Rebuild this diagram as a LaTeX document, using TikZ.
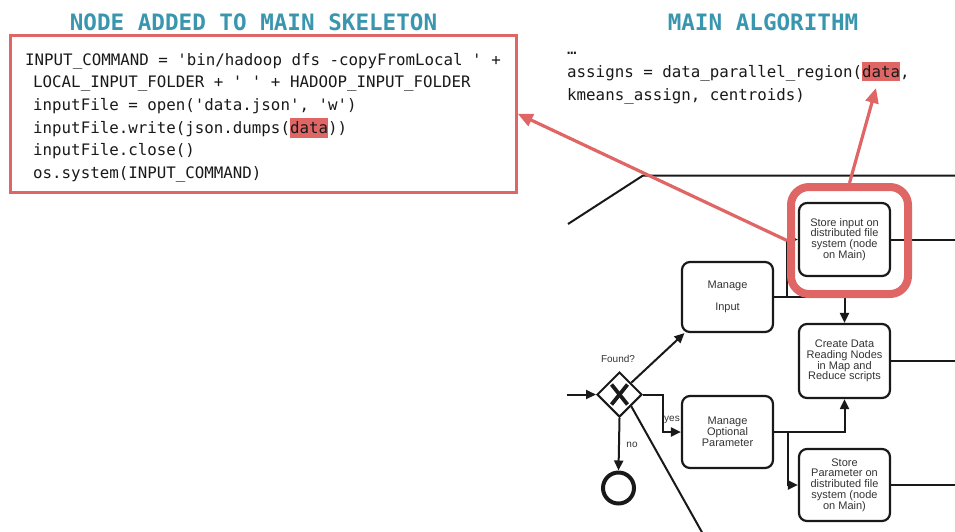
\documentclass[tikz,border=0pt]{standalone}
\usepackage{fontspec}
\setmainfont{Liberation Sans}
\newfontfamily\codefont{DejaVu Sans Mono}
\usetikzlibrary{shapes.geometric,arrows.meta}
\definecolor{hlred}{HTML}{E06666}
\definecolor{headteal}{HTML}{3A96AF}
\definecolor{inkgray}{HTML}{333333}
\newlength\hlwidth
\newcommand\hlword[1]{\settowidth\hlwidth{#1}\makebox[0pt][l]{\textcolor{hlred}{\rule[-0.28em]{\hlwidth}{1.22em}}}#1}
\begin{document}
\begin{tikzpicture}[x=1pt,y=-1pt,
  heading/.style={font=\codefont\bfseries\fontsize{22.6}{24}\selectfont, text=headteal, inner sep=0, anchor=base},
  codeline/.style={font=\codefont\fontsize{15.8}{18}\selectfont, text=black!90, inner sep=0, anchor=base west},
  task/.style={draw=black!90, line width=2.2pt, rounded corners=8pt, minimum width=91pt,
    text=inkgray, align=center, inner sep=0, font=\fontsize{11}{10.8}\selectfont},
  flow/.style={draw=black!90, line width=2pt, -{Triangle[length=10pt,width=9pt]}},
  plain/.style={draw=black!90, line width=2pt},
  lbl/.style={text=inkgray, inner sep=0, font=\fontsize{10}{10}\selectfont},
  redarrow/.style={draw=hlred, line width=3.2pt, -{Triangle[length=15pt,width=13pt]}}]
\useasboundingbox (0,0) rectangle (955,531);

% headings
\node[heading] (h1) at (253.5,30) {NODE ADDED TO MAIN SKELETON};
\node[heading] (h2) at (763,30) {MAIN ALGORITHM};

% inserted code block
\node[draw=hlred, line width=3pt, minimum width=506pt, minimum height=157pt, inner sep=0] (codebox) at (263.25,113.75) {};
\node[codeline] (c1) at (25,65) {INPUT\_COMMAND = 'bin/hadoop dfs -copyFromLocal ' +};
\node[codeline] (c2) at (33,87.7) {LOCAL\_INPUT\_FOLDER + ' ' + HADOOP\_INPUT\_FOLDER};
\node[codeline] (c3) at (33,110.4) {inputFile = open('data.json', 'w')};
\node[codeline] (c4) at (33,133.1) {inputFile.write(json.dumps(\hlword{data}))};
\node[codeline] (c5) at (33,155.8) {inputFile.close()};
\node[codeline] (c6) at (33,178.5) {os.system(INPUT\_COMMAND)};

% main algorithm excerpt
\node[codeline] (m0) at (567,54) {…};
\node[codeline] (m1) at (567,77) {assigns = data\_parallel\_region(\hlword{data},};
\node[codeline] (m2) at (567,100) {kmeans\_assign, centroids)};

% process tasks
\node[task, minimum height=73pt] (storeIn) at (844.5,239.5) {Store input on\\distributed file\\system (node\\on Main)};
\node[task, minimum height=70pt, font=\fontsize{11}{22}\selectfont] (manIn) at (727.5,297) {Manage\\Input};
\node[task, minimum height=74pt] (create) at (844.5,361) {Create Data\\Reading Nodes\\in Map and\\Reduce scripts};
\node[task, minimum height=72pt] (manOpt) at (727.5,432) {Manage\\Optional\\Parameter};
\node[task, minimum height=72pt] (storePar) at (844.5,485) {Store\\Parameter on\\distributed file\\system (node\\on Main)};

% gateway and end event
\node[diamond, draw=black!90, line width=2pt, minimum width=45pt, minimum height=45pt, inner sep=0] (gw) at (619.5,394.5) {};
\draw[line width=3.8pt, black!90] (gw.center) ++(-8,-10) -- ++(16,20);
\draw[line width=3.8pt, black!90] (gw.center) ++(8,-10) -- ++(-16,20);
\node[lbl] (found) at (618,359) {Found?};
\node[circle, draw=black!90, line width=4pt, minimum size=31pt, inner sep=0] (endEv) at (618.5,488) {};

% free ends of flows that leave the cropped view
\coordinate (inL) at (567,394.5);
\coordinate (diagA) at (568,224);
\coordinate (diagB) at (643,175.5);
\coordinate (topR) at (956,175.5);
\coordinate (outS) at (956,239.5);
\coordinate (outC) at (956,361);
\coordinate (outP) at (956,485);
\coordinate (offB) at (708,543);

% flows
\draw[plain] (diagA) -- (diagB) -- (topR);
\draw[flow] (inL) -- (gw.west);
\draw[flow] (gw.north east) -- (manIn.220);
\draw[flow] (gw.east) -- ++(20,0) |- (manOpt.west);
\node[lbl] (yes) at (672,420) {yes};
\draw[flow] (gw.south) -- (endEv.north);
\node[lbl] (no) at (632,445) {no};
\draw[flow] (gw.south east) -- (offB);
\draw[flow] (manIn.east) -| (create.north);
\draw[flow] (manIn.east) -- ++(13,0) |- (storeIn.west);
\draw[flow] (manOpt.east) -| (create.south);
\draw[flow] (manOpt.east) -- ++(14,0) |- (storePar.west);
\draw[plain] (storeIn.east) -- (outS);
\draw[plain] (create.east) -- (outC);
\draw[plain] (storePar.east) -- (outP);

% highlight and links to the code
\node[draw=hlred, line width=8pt, rounded corners=18pt, minimum width=117pt, minimum height=107pt, inner sep=0] (hlbox) at (849.5,240.5) {};
\coordinate (dataTip) at (876,88);
\draw[redarrow] (hlbox.west) -- (codebox.east);
\draw[redarrow] (hlbox.north) -- (dataTip);
\end{tikzpicture}
\end{document}
